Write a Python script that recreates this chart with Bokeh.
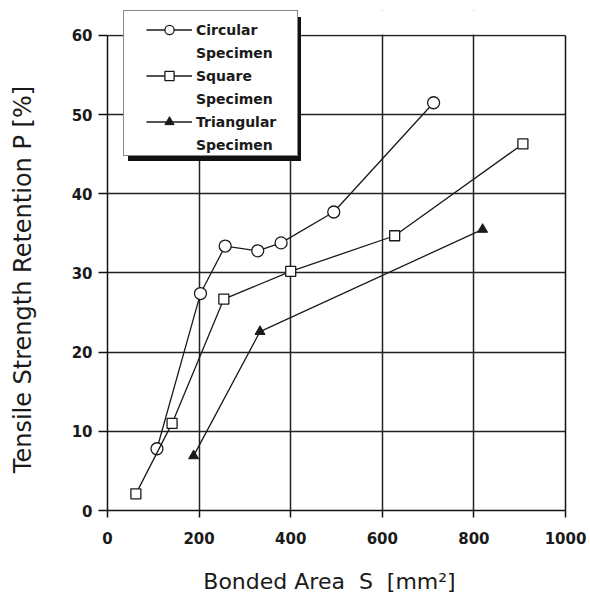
from bokeh.plotting import figure
from bokeh.models import Range1d, FixedTicker, Legend, LegendItem, BoxAnnotation, LinearAxis
from bokeh.embed import file_html
from bokeh.resources import INLINE

circular_x = [108, 203, 257, 328, 379, 494, 712]
circular_y = [7.8, 27.4, 33.4, 32.8, 33.8, 37.7, 51.5]
square_x = [62, 141, 254, 400, 627, 907]
square_y = [2.1, 11.0, 26.7, 30.2, 34.7, 46.3]
triangular_x = [188, 333, 819]
triangular_y = [6.9, 22.6, 35.5]
x_ticks = [0, 200, 400, 600, 800, 1000]
y_ticks = [0, 10, 20, 30, 40, 50, 60]
series_names = ["Circular", "Square", "Triangular"]
series_suffix = "Specimen"
NB = "\u00a0"
x_label = "Bonded Area" + NB * 2 + "S" + NB * 2 + "[mm\u00b2]" + NB * 2
y_label = "Tensile Strength Retention P [%]" + NB * 5

Y_MAX = 60
# plotting area extends a little above 60 so the legend can overlap the top border
p = figure(width=590, height=596, x_range=Range1d(0, 1000), y_range=Range1d(0, 63.15),
           output_backend="svg", toolbar_location=None,
           min_border_left=107, min_border_right=25, min_border_top=10, min_border_bottom=85)
p.background_fill_color = "white"
p.border_fill_color = "white"
p.outline_line_color = None

for ax in (p.xaxis[0], p.yaxis[0]):
    ax.axis_line_color = "#111111"
    ax.axis_line_width = 1.5
    ax.major_tick_line_color = "#111111"
    ax.major_tick_line_width = 1.5
    ax.major_tick_in = 0
    ax.minor_tick_line_color = None
    ax.major_label_text_font = "DejaVu Sans"
    ax.major_label_text_font_style = "bold"
    ax.major_label_text_font_size = "15px"
    ax.major_label_text_color = "#1a1a1a"
    ax.axis_label_text_font = "DejaVu Sans"
    ax.axis_label_text_font_style = "normal"
    ax.axis_label_text_color = "#1a1a1a"

p.xaxis.ticker = FixedTicker(ticks=x_ticks)
p.yaxis.ticker = FixedTicker(ticks=y_ticks)
p.yaxis.bounds = (0, Y_MAX)
p.xaxis.axis_label = x_label
p.yaxis.axis_label = y_label
p.xaxis.axis_label_text_font_size = "22px"
p.yaxis.axis_label_text_font_size = "24px"
p.xaxis.major_tick_out = 7
p.yaxis.major_tick_out = 9
p.xaxis.major_label_standoff = 14
p.yaxis.major_label_standoff = 6
p.xaxis.axis_label_standoff = 22
p.yaxis.axis_label_standoff = 32

right_axis = LinearAxis(bounds=(0, Y_MAX), ticker=FixedTicker(ticks=[]),
                        axis_line_color="#111111", axis_line_width=1.5,
                        major_tick_line_color=None, minor_tick_line_color=None)
p.add_layout(right_axis, "right")

for g in (p.xgrid[0], p.ygrid[0]):
    g.grid_line_color = "#222222"
    g.grid_line_width = 1.5

lc = "#1a1a1a"
r1l = p.line(circular_x, circular_y, line_color=lc, line_width=1.3)
r1m = p.scatter(circular_x, circular_y, marker="circle", size=12, fill_color="white",
                line_color=lc, line_width=1.3)
r2l = p.line(square_x, square_y, line_color=lc, line_width=1.3)
r2m = p.scatter(square_x, square_y, marker="square", size=10, fill_color="white",
                line_color=lc, line_width=1.3)
r3l = p.line(triangular_x, triangular_y, line_color=lc, line_width=1.3)
r3m = p.scatter(triangular_x, triangular_y, marker="triangle", size=10, fill_color=lc,
                line_color=lc, line_width=1)

# white cover above the 60 line (outside the chart's real plotting area)
cover = BoxAnnotation(bottom=Y_MAX + 0.12, fill_color="white", fill_alpha=1.0,
                      line_color=None)
p.add_layout(cover)

# invisible renderer used for legend rows without a glyph
blank = p.line([], [], line_alpha=0)

# legend frame: shadow + white box
shadow = Legend(items=[LegendItem(label="", renderers=[blank])],
                location=(21, 349), padding=0, spacing=0, margin=0,
                glyph_width=1, glyph_height=144, label_standoff=0,
                label_width=172, label_height=144,
                border_line_color=None, background_fill_color="#111111",
                background_fill_alpha=1.0)
box = Legend(items=[LegendItem(label="", renderers=[blank])],
             location=(16, 354), padding=0, spacing=0, margin=0,
             glyph_width=1, glyph_height=144, label_standoff=0,
             label_width=172, label_height=144,
             border_line_color="#111111", border_line_width=1.5,
             background_fill_color="white", background_fill_alpha=1.0)

content = Legend(items=[LegendItem(label=series_names[0], renderers=[r1l, r1m]),
                        LegendItem(label=series_suffix, renderers=[blank]),
                        LegendItem(label=series_names[1], renderers=[r2l, r2m]),
                        LegendItem(label=series_suffix, renderers=[blank]),
                        LegendItem(label=series_names[2], renderers=[r3l, r3m]),
                        LegendItem(label=series_suffix, renderers=[blank])],
                 location=(39, 354), padding=0, spacing=0, margin=0,
                 border_line_color=None, background_fill_alpha=0,
                 glyph_width=46, glyph_height=23, label_standoff=4, label_height=23,
                 label_text_font="DejaVu Sans", label_text_font_style="bold",
                 label_text_font_size="14px", label_text_color="#1a1a1a")
p.add_layout(shadow, "center")
p.add_layout(box, "center")
p.add_layout(content, "center")

open("out.html", "w").write(file_html(p, INLINE))
